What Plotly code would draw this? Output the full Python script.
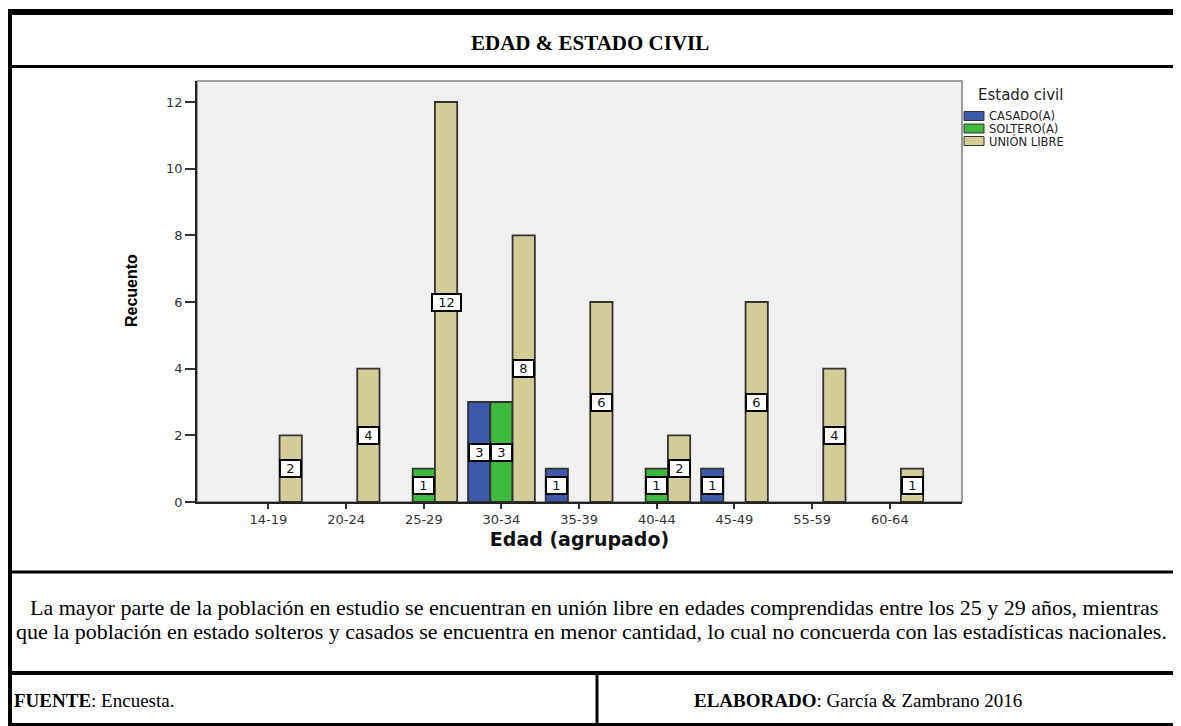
import plotly.graph_objects as go

# datos (recuento por grupo de edad)
edades = ["14-19", "20-24", "25-29", "30-34", "35-39", "40-44", "45-49", "55-59", "60-64"]
casado = [0, 0, 0, 3, 1, 0, 1, 0, 0]
soltero = [0, 0, 1, 3, 0, 1, 0, 0, 0]
union_libre = [2, 4, 12, 8, 6, 2, 6, 4, 1]

series = ["CASADO(A)", "SOLTERO(A)", "UNIÓN LIBRE"]
valores = [casado, soltero, union_libre]
colores = ["#3E58AC", "#3EB93E", "#D3CE97"]
y_ticks = [0, 2, 4, 6, 8, 10, 12]

titulo = "EDAD & ESTADO CIVIL"
texto_1 = "La mayor parte de la población en estudio se encuentran en unión libre en edades comprendidas entre los 25 y 29 años, mientras"
texto_2 = "que la población en estado solteros y casados se encuentra en menor cantidad, lo cual no concuerda con las estadísticas nacionales."

W, H = 1181, 726
OFF = 8  # margen del body de la pagina html
PL, PR, PT, PB = 197, 962, 81, 502
BARGAP = 0.14


def fx(px):
    return (px - PL) / (PR - PL)


def fy(py):
    return (PB - py) / (PB - PT)


fig = go.Figure()
x_idx = list(range(len(edades)))
for nombre, vals, col in zip(series, valores, colores):
    fig.add_trace(go.Bar(x=x_idx, y=[v if v else None for v in vals], name=nombre,
                         marker=dict(color=col, line=dict(color="#333333", width=1.8)),
                         showlegend=False))

# etiquetas en caja blanca a mitad de cada barra
ancho = (1 - BARGAP) / len(series)
anns = []
for k, vals in enumerate(valores):
    for i, v in enumerate(vals):
        if not v:
            continue
        anns.append(dict(x=i + (k - 1) * ancho, y=v / 2, xref="x", yref="y", text=str(v),
                         showarrow=False, bgcolor="white", bordercolor="black", borderwidth=2,
                         borderpad=1, width=8 * len(str(v)) + 9, height=13,
                         xanchor="center", yanchor="middle",
                         font=dict(family="DejaVu Sans", size=13, color="#111")))


def nota(px, py, text, size, family="Liberation Serif", xanchor="center", angle=0, color="black"):
    anns.append(dict(x=fx(px), y=fy(py), xref="paper", yref="paper", text=text, showarrow=False,
                     xanchor=xanchor, yanchor="middle", textangle=angle,
                     font=dict(family=family, size=size, color=color)))


# leyenda dibujada a mano (SPSS la pone muy compacta)
shapes = []
nota(976, 95, "Estado civil", 15, family="DejaVu Sans", xanchor="left", color="#222")
for k, (nombre, col) in enumerate(zip(series, colores)):
    yc = 116 + 12.5 * k
    shapes.append(dict(type="rect", xref="paper", yref="paper", x0=fx(964), x1=fx(984),
                       y0=fy(yc - 4.5), y1=fy(yc + 4.5), fillcolor=col,
                       line=dict(color="#333333", width=1)))
    nota(987, yc, nombre, 11.5, family="DejaVu Sans", xanchor="left", color="#222")

# marco del area de trazado
shapes.append(dict(type="rect", xref="paper", yref="paper", x0=0, x1=1, y0=0, y1=1,
                   line=dict(color="#808080", width=1.5), layer="below"))


# bordes de la tabla
def hline(py, x0, x1, w):
    shapes.append(dict(type="line", xref="paper", yref="paper", x0=fx(x0), x1=fx(x1),
                       y0=fy(py), y1=fy(py), line=dict(color="black", width=w)))


def vline(px, y0, y1, w):
    shapes.append(dict(type="line", xref="paper", yref="paper", x0=fx(px), x1=fx(px),
                       y0=fy(y0), y1=fy(y1), line=dict(color="black", width=w)))


hline(12, 5, 1185, 6)
hline(66.5, 5, 1185, 3)
hline(572, 5, 1185, 3)
hline(673, 5, 1185, 4)
hline(724.5, 5, 1185, 3)
vline(8.5, 9, 730, 7)
vline(597, 673, 730, 3)

nota(590, 43, "<b>" + titulo + "</b>", 21)
nota(594, 607, texto_1, 22)
nota(591, 631, texto_2, 22)
nota(12, 700, "<b>FUENTE</b>: Encuesta.", 19, xanchor="left")
nota(858, 700, "<b>ELABORADO</b>: García & Zambrano 2016", 19)
nota(131, 291, "<b>Recuento</b>", 16, family="Liberation Sans", angle=-90)

fig.update_layout(
    width=W - OFF, height=H - OFF,
    margin=dict(l=PL - OFF, r=W - PR, t=PT - OFF, b=H - PB),
    paper_bgcolor="white", plot_bgcolor="#F0F0F0",
    barmode="group", bargap=BARGAP,
    showlegend=False,
    shapes=shapes, annotations=anns,
    xaxis=dict(range=[-0.92, 8.93], tickvals=x_idx, ticktext=edades, showgrid=False,
               zeroline=False, showline=True, linecolor="#222", linewidth=1.5,
               ticks="outside", ticklen=5, tickwidth=1.5, tickcolor="#333",
               tickfont=dict(family="DejaVu Sans", size=13, color="#333"),
               title=dict(text="<b>Edad (agrupado)</b>", standoff=6,
                          font=dict(family="DejaVu Sans", size=19, color="#111"))),
    yaxis=dict(range=[0, 12.63], tickvals=y_ticks, showgrid=False, zeroline=False,
               showline=True, linecolor="#222", linewidth=1.5,
               ticks="outside", ticklen=10, tickwidth=1.5, tickcolor="#333",
               tickfont=dict(family="DejaVu Sans", size=13, color="#333")),
)

fig.write_html("out.html")
